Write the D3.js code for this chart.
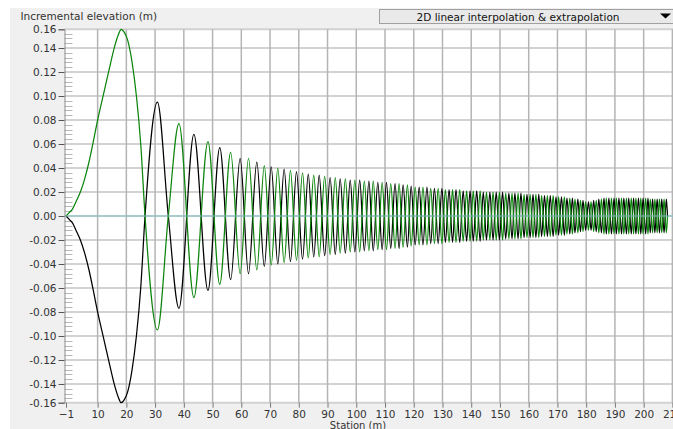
<!DOCTYPE html>
<html>
<head>
<meta charset="utf-8">
<script src="https://cdn.jsdelivr.net/npm/d3@7"></script>
<style>
  html, body { margin: 0; padding: 0; background: #ffffff; overflow: hidden; }
  svg { display: block; font-family: "DejaVu Sans", "Liberation Sans", sans-serif; }
</style>
</head>
<body>
<svg id="chart" width="673" height="429"></svg>
<script>
// Station (m) of every vertex of the two elevation profiles
const stations = [
  -1, 0.2, 1.3, 2.5, 4.0, 5.5, 7.0, 8.5, 10.0, 12.0, 14.0, 16.0, 17.2, 18.2, 19.3, 20.4, 22.0, 23.5, 25.0, 26.5, 30.8, 34.6, 38.3,
  43.5, 48.4, 52.5, 56.3, 59.6, 62.5, 65.4, 68.0,
  70.4, 72.7, 74.9, 77.1, 79.2, 81.3, 83.3, 85.2, 87.1, 89.0,
  90.9, 92.7, 94.4, 96.2, 97.9, 99.5, 101.2, 102.8, 104.4, 105.9,
  107.5, 109.0, 110.5, 112.0, 113.5, 114.9, 116.3, 117.8, 119.1, 120.5,
  121.9, 123.2, 124.6, 125.9, 127.2, 128.5, 129.8, 131.0, 132.3, 133.5,
  134.7, 136.0, 137.2, 138.4, 139.6, 140.7, 141.9, 143.1, 144.2, 145.3,
  146.5, 147.6, 148.7, 149.8, 150.9, 152.0, 153.1, 154.2, 155.2, 156.3,
  157.3, 158.4, 159.4, 160.5, 161.5, 162.5, 163.5, 164.5, 165.5, 166.5,
  167.5, 168.5, 169.5, 170.4, 171.4, 172.4, 173.3, 174.3, 175.2, 176.1,
  177.1, 178.0, 178.9, 179.8, 180.8, 181.7, 182.6, 183.5, 184.4, 185.3,
  186.2, 187.0, 187.9, 188.8, 189.7, 190.5, 191.4, 192.3, 193.1, 194.0,
  194.8, 195.7, 196.5, 197.3, 198.2, 199.0, 199.8, 200.7, 201.5, 202.3,
  203.1, 203.9, 204.7, 205.5, 206.3, 207.1, 207.9, 208.3
];

// Incremental elevation (m), green profile
const greenElevation = [
  0, 0.003, 0.006, 0.012, 0.020, 0.031, 0.045, 0.062, 0.080, 0.101, 0.122, 0.142, 0.151, 0.1556, 0.153, 0.147, 0.128, 0.100, 0.060, 0, -0.095, 0, 0.077,
  -0.068, 0.062, -0.057, 0.053, -0.048, 0.048, -0.045, 0.042,
  -0.041, 0.040, -0.039, 0.038, -0.037, 0.036, -0.035, 0.034, -0.034, 0.033,
  -0.032, 0.032, -0.031, 0.031, -0.030, 0.030, -0.030, 0.029, -0.029, 0.029,
  -0.028, 0.028, -0.028, 0.027, -0.027, 0.027, -0.026, 0.026, -0.025, 0.024,
  -0.024, 0.024, -0.024, 0.023, -0.023, 0.023, -0.023, 0.022, -0.022, 0.022,
  -0.022, 0.022, -0.021, 0.021, -0.021, 0.021, -0.021, 0.021, -0.020, 0.020,
  -0.020, 0.020, -0.020, 0.020, -0.020, 0.019, -0.019, 0.019, -0.019, 0.019,
  -0.019, 0.018, -0.018, 0.018, -0.018, 0.018, -0.018, 0.017, -0.017, 0.017,
  -0.017, 0.017, -0.016, 0.016, -0.016, 0.016, -0.015, 0.015, -0.015, 0.014,
  -0.014, 0.013, -0.013, 0.012, -0.012, 0.012, -0.013, 0.013, -0.014, 0.014,
  -0.015, 0.015, -0.015, 0.015, -0.015, 0.015, -0.015, 0.015, -0.015, 0.015,
  -0.015, 0.015, -0.015, 0.015, -0.015, 0.015, -0.015, 0.015, -0.015, 0.014,
  -0.014, 0.014, -0.014, 0.014, -0.014, 0.014, -0.014, 0
];

// Incremental elevation (m), black profile
const blackElevation = [
  0, -0.003, -0.006, -0.012, -0.020, -0.031, -0.045, -0.062, -0.080, -0.101, -0.122, -0.142, -0.151, -0.1556, -0.153, -0.147, -0.128, -0.100, -0.060, 0, 0.095, 0, -0.077,
  0.068, -0.062, 0.057, -0.053, 0.048, -0.048, 0.045, -0.042,
  0.041, -0.040, 0.039, -0.038, 0.037, -0.036, 0.035, -0.034, 0.034, -0.033,
  0.032, -0.032, 0.031, -0.031, 0.030, -0.030, 0.030, -0.029, 0.029, -0.029,
  0.028, -0.028, 0.028, -0.027, 0.027, -0.027, 0.026, -0.026, 0.025, -0.024,
  0.024, -0.024, 0.024, -0.023, 0.023, -0.023, 0.023, -0.022, 0.022, -0.022,
  0.022, -0.022, 0.021, -0.021, 0.021, -0.021, 0.021, -0.021, 0.020, -0.020,
  0.020, -0.020, 0.020, -0.020, 0.020, -0.019, 0.019, -0.019, 0.019, -0.019,
  0.019, -0.018, 0.018, -0.018, 0.018, -0.018, 0.018, -0.017, 0.017, -0.017,
  0.017, -0.017, 0.016, -0.016, 0.016, -0.016, 0.015, -0.015, 0.015, -0.014,
  0.014, -0.013, 0.013, -0.012, 0.012, -0.012, 0.013, -0.013, 0.014, -0.014,
  0.015, -0.015, 0.015, -0.015, 0.015, -0.015, 0.015, -0.015, 0.015, -0.015,
  0.015, -0.015, 0.015, -0.015, 0.015, -0.015, 0.015, -0.015, 0.015, -0.014,
  0.014, -0.014, 0.014, -0.014, 0.014, -0.014, 0.014, 0
];

// Axis tick values and labels
const xTickValues = [-1, 10, 20, 30, 40, 50, 60, 70, 80, 90, 100, 110, 120, 130, 140, 150, 160, 170, 180, 190, 200, 210];
const yTickValues = [-0.1556, -0.14, -0.12, -0.10, -0.08, -0.06, -0.04, -0.02, 0, 0.02, 0.04, 0.06, 0.08, 0.10, 0.12, 0.14, 0.1556];
const yAxisTitle = "Incremental elevation (m)";
const xAxisTitle = "Station (m)";
const methodLabel = "2D linear interpolation & extrapolation";

const W = 673, H = 429;
const plot = { left: 64.5, top: 29.3, bottom: 402.7, right: 673 };

const svg = d3.select("#chart");

// panel background
svg.append("rect").attr("x", 10).attr("y", 8).attr("width", W - 10).attr("height", H - 8).attr("fill", "#f0f0f0");
// plotting area
svg.append("rect").attr("x", plot.left).attr("y", plot.top)
  .attr("width", plot.right - plot.left).attr("height", plot.bottom - plot.top).attr("fill", "#ffffff");

const x = d3.scaleLinear().domain([-1, 210]).range([66, 672.4]);
const y = d3.scaleLinear().domain([-0.1556, 0.1556]).range([plot.bottom, plot.top]);

const fmt = d3.formatLocale({ decimal: ".", thousands: ",", grouping: [3], currency: ["", ""], minus: "-" }).format(".2f");

// horizontal grid
svg.append("g").selectAll("line")
  .data(yTickValues)
  .join("line")
  .attr("x1", plot.left).attr("x2", plot.right)
  .attr("y1", d => y(d)).attr("y2", d => y(d))
  .attr("stroke", "#d2d2d2").attr("stroke-width", 2);

// vertical grid
svg.append("g").selectAll("line")
  .data(xTickValues.filter(v => v > 0))
  .join("line")
  .attr("x1", d => x(d)).attr("x2", d => x(d))
  .attr("y1", plot.top).attr("y2", plot.bottom)
  .attr("stroke", "#b4b4b4").attr("stroke-width", 1.5);

// minor ticks on the inner side of the vertical axis
const minor = d3.range(-38, 39).map(i => i * 0.004).filter(v => Math.abs(v) < 0.155 && Math.round(v * 1000) % 20 !== 0);
svg.append("g").selectAll("line")
  .data(minor)
  .join("line")
  .attr("x1", plot.left).attr("x2", plot.left + 8)
  .attr("y1", d => Math.round(y(d)) + 0.5).attr("y2", d => Math.round(y(d)) + 0.5)
  .attr("stroke", "#b8b8b8").attr("stroke-width", 1);

// clip for the profiles
svg.append("clipPath").attr("id", "plotClip")
  .append("rect").attr("x", plot.left).attr("y", plot.top - 1)
  .attr("width", plot.right - plot.left).attr("height", plot.bottom - plot.top + 2);

const line = d3.line()
  .x(d => x(d[0]))
  .y(d => y(d[1]))
  .curve(d3.curveMonotoneX);

const blackData = stations.map((s, i) => [s, blackElevation[i]]);
const greenData = stations.map((s, i) => [s, greenElevation[i]]);

const g = svg.append("g").attr("clip-path", "url(#plotClip)");
g.append("path").datum(blackData).attr("d", line)
  .attr("fill", "none").attr("stroke", "#000000").attr("stroke-width", 1.25);
g.append("path").datum(greenData).attr("d", line)
  .attr("fill", "none").attr("stroke", "#0b850b").attr("stroke-width", 1.25);

// zero reference line
svg.append("line")
  .attr("x1", plot.left).attr("x2", plot.right)
  .attr("y1", y(0)).attr("y2", y(0))
  .attr("stroke", "#7fc4c4").attr("stroke-width", 1.2);

// vertical axis
const yAxis = svg.append("g").attr("transform", `translate(${plot.left},0)`)
  .call(d3.axisLeft(y).tickValues(yTickValues).tickFormat(fmt).tickSize(6).tickPadding(2));
yAxis.select(".domain").attr("stroke", "#8a8a8a");
yAxis.selectAll(".tick line").attr("stroke", "#555555");
yAxis.selectAll(".tick text").attr("fill", "#333333").attr("font-size", 10.5)
  .attr("font-family", "DejaVu Sans, sans-serif");

// horizontal axis
const xAxis = svg.append("g").attr("transform", `translate(0,${plot.bottom})`)
  .call(d3.axisBottom(x).tickValues(xTickValues).tickFormat(d3.format("d")).tickSize(5).tickPadding(3));
xAxis.select(".domain").remove();
xAxis.selectAll(".tick line").attr("stroke", "#777777");
xAxis.selectAll(".tick text").attr("fill", "#333333").attr("font-size", 10.5)
  .attr("font-family", "DejaVu Sans, sans-serif");

// axis titles
svg.append("text").attr("x", 20.5).attr("y", 20).attr("font-size", 10.5)
  .attr("fill", "#333333").text(yAxisTitle);
svg.append("text").attr("x", 358).attr("y", 428.5).attr("font-size", 10)
  .attr("text-anchor", "middle").attr("fill", "#333333").text(xAxisTitle);

// method selector
svg.append("rect").attr("x", 379.5).attr("y", 9.5).attr("width", 300).attr("height", 14)
  .attr("fill", "#e9e9e9").attr("stroke", "#a0a0a0");
svg.append("text").attr("x", 518).attr("y", 20.5).attr("font-size", 10.5)
  .attr("text-anchor", "middle").attr("fill", "#111111").text(methodLabel);
svg.append("path").attr("d", "M660,13.5 L671,13.5 L665.5,18.5 Z").attr("fill", "#000000");
</script>
</body>
</html>
